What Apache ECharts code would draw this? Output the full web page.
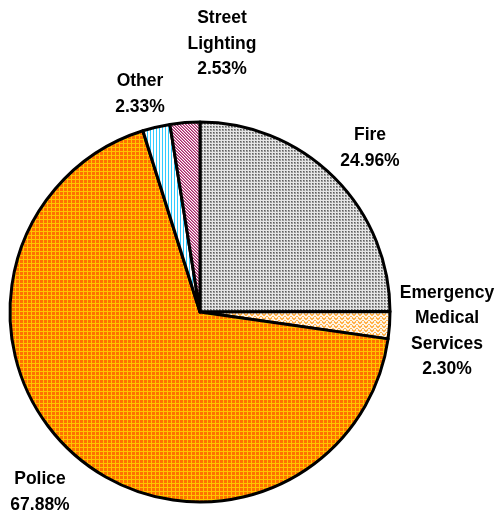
<!DOCTYPE html>
<html><head><meta charset="utf-8">
<script src="https://cdn.jsdelivr.net/npm/echarts@6/dist/echarts.min.js"></script>
<style>html,body{margin:0;padding:0;background:#fff}#c{width:498px;height:514px}</style>
</head><body><div id="c"></div>
<script>
var categories = ['Fire', 'Emergency\nMedical\nServices', 'Police', 'Other', 'Street\nLighting'];
var values = [24.96, 2.30, 67.88, 2.33, 2.53];

function tile(w, h, draw) {
  var c = document.createElement('canvas'); c.width = w; c.height = h;
  var g = c.getContext('2d'); draw(g); return {image: c, repeat: 'repeat'};
}
function px(g, col, pts) { g.fillStyle = col; pts.forEach(function(p){ g.fillRect(p[0], p[1], 1, 1); }); }
var patterns = [
  tile(3, 3, function(g){ g.fillStyle='#e6e6e6'; g.fillRect(0,0,3,3); g.fillStyle='#9a9a9a'; g.fillRect(0,0,2,2); px(g,'#5e5e5e',[[0,0]]); }),
  tile(6, 4, function(g){ g.fillStyle='#FFF4E6'; g.fillRect(0,0,6,4); px(g,'#FFB24C',[[0,2],[1,1],[2,0],[3,0],[4,1],[5,2],[0,3],[5,3],[1,2],[4,2]]); }),
  tile(4, 4, function(g){ g.fillStyle='#FFC400'; g.fillRect(0,0,4,4); g.fillStyle='#FF7000'; g.fillRect(0,0,3,3); }),
  tile(3, 1, function(g){ g.fillStyle='#ffffff'; g.fillRect(0,0,3,1); g.fillStyle='#33CCFF'; g.fillRect(0,0,1,1); }),
  tile(3, 3, function(g){ g.fillStyle='#E070A8'; g.fillRect(0,0,3,3); px(g,'#ffffff',[[0,0],[1,1],[2,2]]); px(g,'#993366',[[1,0],[2,1],[0,2]]); })
];
var labelPos = [[370, 148], [447, 331], [40, 492], [140, 94], [222, 44]];

var chart = echarts.init(document.getElementById('c'));
chart.setOption({
  animation: false,
  series: [{
    type: 'pie',
    center: [200, 312],
    radius: 190,
    startAngle: 90,
    clockwise: true,
    data: categories.map(function(n, i){ return {name: n, value: values[i], itemStyle: {color: patterns[i]}}; }),
    itemStyle: {borderColor: '#000', borderWidth: 3},
    label: {
      show: true, position: 'outside', overflow: 'none', alignTo: 'none',
      formatter: function(p){ return p.name + '\n' + p.value.toFixed(2) + '%'; },
      fontFamily: 'Liberation Sans, Arial, sans-serif', fontWeight: 'bold', fontSize: 17.5,
      lineHeight: 25.5, color: '#000', align: 'center'
    },
    labelLine: {show: false},
    labelLayout: function(p){ var q = labelPos[p.dataIndex]; return {x: q[0], y: q[1], align: 'center', verticalAlign: 'middle'}; },
    emphasis: {disabled: true}
  }]
});
</script></body></html>
